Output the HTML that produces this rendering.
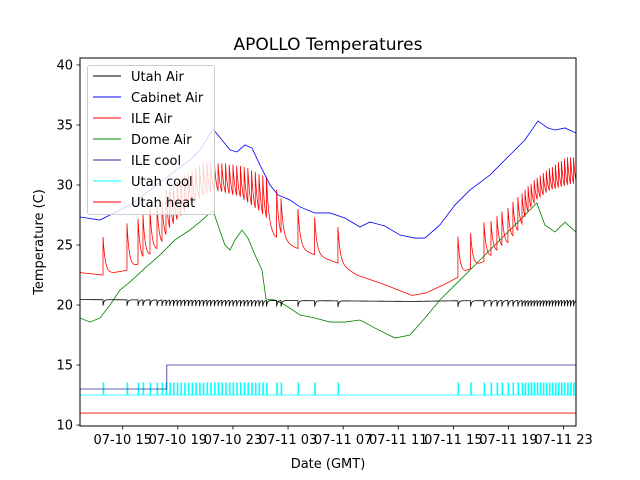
<!DOCTYPE html>
<html><head><meta charset="utf-8"><style>
body{margin:0;background:#fff}
svg{display:block;font-family:"DejaVu Sans","Liberation Sans",sans-serif}
</style></head><body>
<svg id="chart" width="640" height="480" viewBox="0 0 640 480" xmlns="http://www.w3.org/2000/svg">
<rect width="640" height="480" fill="#fff"/>
<text x="328" y="50" font-size="17" text-anchor="middle">APOLLO Temperatures</text>
<text x="328" y="468" font-size="13" text-anchor="middle">Date (GMT)</text>
<text x="0" y="0" font-size="13" text-anchor="middle" transform="translate(43,242) rotate(-90)">Temperature (C)</text>
<defs><clipPath id="pa"><rect x="80" y="58" width="496" height="368"/></clipPath></defs>
<g id="series" clip-path="url(#pa)"></g>
<g id="axes"></g>
<g id="legend"></g>
</svg>
<script>
// time in hours since 07-10 00:00 GMT
const xTickHours = [15,19,23,27,31,35,39,43,47];
const xTickLabels = ["07-10 15","07-10 19","07-10 23","07-11 03","07-11 07","07-11 11","07-11 15","07-11 19","07-11 23"];
const yTicks = [10,15,20,25,30,35,40];

const cabinetT = [11.9,13.35,14.08,15.53,16.98,18.43,19.88,20.61,21.55,22.79,23.29,23.87,24.38,24.96,25.69,26.27,27.14,27.87,28.95,30.04,31.13,32.22,32.94,34.03,35.12,36.21,36.94,38.02,39.11,40.2,41.65,43.1,44.19,45.14,45.86,46.37,47.1,47.9];
const cabinetV = [27.33,27.08,27.5,28.33,29.58,30.83,32.08,32.92,34.67,32.92,32.75,33.33,33.08,31.67,30.0,29.17,28.75,28.17,27.67,27.67,27.25,26.5,26.92,26.58,25.83,25.58,25.58,26.67,28.33,29.58,30.83,32.5,33.75,35.33,34.75,34.58,34.75,34.33];

const domeT = [11.9,12.63,13.35,14.08,14.8,15.53,16.62,17.71,18.79,19.88,20.61,21.33,21.55,21.91,22.42,22.79,23.15,23.66,24.09,24.6,25.11,25.4,26.05,26.78,27.87,28.95,30.04,31.13,32.22,33.31,34.76,35.85,36.94,38.02,39.48,40.93,42.38,43.83,45.06,45.64,46.37,47.1,47.9];
const domeV = [18.92,18.58,18.92,20.0,21.25,21.92,23.08,24.17,25.42,26.25,26.92,27.67,27.9,26.67,25.0,24.58,25.42,26.25,25.58,24.17,22.92,20.5,20.42,20.0,19.17,18.92,18.58,18.58,18.75,18.08,17.25,17.5,18.92,20.42,22.08,23.75,25.42,27.08,28.5,26.67,26.08,26.9,26.08];

const ileBaseT = [11.9,13.5,15.3,16.5,18,19.5,21,22,23.5,25,26,27.5,28.9,30.6,32,34,36,37,38.5,39.3,40.2,41.5,43,44.2,45,46,47.9];
const ileBaseV = [22.7,22.5,22.9,23.6,25.0,27.0,28.6,28.9,28.4,27.0,25.7,24.8,24.2,23.5,22.5,21.7,20.8,21.0,21.8,22.3,23.0,23.8,25.0,26.5,28.0,28.9,29.3];
const spikeT = [13.57,15.31,16.11,16.47,16.98,17.49,17.85,18.14,18.41,18.68,18.95,19.22,19.49,19.76,20.03,20.30,20.57,20.84,21.11,21.38,21.65,21.92,22.19,22.46,22.73,23.00,23.27,23.54,23.81,24.08,24.35,24.62,24.89,25.16,25.43,26.17,26.49,27.72,28.93,30.62,39.33,40.25,41.22,41.73,42.16,42.52,42.96,43.32,43.68,43.98,44.2,44.42,44.64,44.86,45.08,45.30,45.52,45.74,45.96,46.18,46.40,46.62,46.84,47.06,47.28,47.50,47.72];
const spikePeak = [25.67,26.8,27.2,27.6,28.0,28.3,28.6,29.6,29.8,30.0,30.3,30.5,30.8,31.0,31.2,31.4,31.6,31.8,31.9,31.9,31.9,31.8,31.8,31.8,31.7,31.7,31.6,31.6,31.5,31.4,31.2,31.1,30.9,30.8,30.7,29.6,28.9,28.0,27.3,26.5,25.7,26.0,26.9,27.0,27.4,27.8,28.1,28.6,29.0,29.3,29.6,29.9,30.1,30.4,30.6,30.8,31.0,31.2,31.4,31.5,31.7,31.9,32.0,32.2,32.3,32.3,32.3];

const utahBaseT = [11.9,30,36,39,47.9];
const utahBaseV = [20.45,20.35,20.3,20.35,20.4];
const utahDipDepth = [0.5];
const ileCoolT = [11.9,18.2,47.9];
const ileCoolV = [13,15,15];
const utahCoolLow = [12.5], utahCoolHigh = [13.5];
const utahHeatV = [11];

const T0=11.9, T1=47.9, X0=80, X1=576, Y0=426, Y1=58, V0=9.92, V1=40.58;
const xs = t => X0 + (t-T0)/(T1-T0)*(X1-X0);
const ys = v => Y0 - (v-V0)/(V1-V0)*(Y0-Y1);
function interp(T,V,t){ if(t<=T[0]) return V[0]; for(let i=1;i<T.length;i++){ if(t<=T[i]){const f=(t-T[i-1])/(T[i]-T[i-1]); return V[i-1]+f*(V[i]-V[i-1]);} } return V[V.length-1]; }
const NS="http://www.w3.org/2000/svg";
const series=document.getElementById('series'), axes=document.getElementById('axes'), legend=document.getElementById('legend');
function mk(tag,attrs,parent){const e=document.createElementNS(NS,tag);for(const k in attrs)e.setAttribute(k,attrs[k]);parent.appendChild(e);return e;}
function pathFrom(pts){return pts.map((p,i)=>(i?'L':'M')+xs(p[0]).toFixed(2)+','+ys(p[1]).toFixed(2)).join('');}

function spiky(baseT,baseV,peaks,tau,sign,depth){
  const pts=[]; let si=-1; const step=0.01;
  const times=[];
  for(let t=T0;t<=T1+1e-9;t+=step) times.push(t);
  spikeT.forEach(s=>{times.push(s-0.0005);times.push(s);});
  times.sort((a,b)=>a-b);
  for(const t of times){
    while(si+1<spikeT.length && spikeT[si+1]<=t) si++;
    let v=interp(baseT,baseV,t);
    if(si>=0){const s=spikeT[si];
      const amp = peaks ? (peaks[si]-interp(baseT,baseV,s)) : sign*depth;
      v+=amp*Math.exp(-(t-s)/tau);}
    pts.push([t,v]);
  }
  return pts;
}

const uh=mk('path',{d:pathFrom([[T0,utahHeatV[0]],[T1,utahHeatV[0]]]),stroke:'#ff0000',fill:'none','stroke-width':0.8},series);


(function(){const pts=[[T0,utahCoolLow[0]]];spikeT.forEach(s=>{pts.push([s,utahCoolLow[0]],[s,utahCoolHigh[0]],[s+0.06,utahCoolHigh[0]],[s+0.06,utahCoolLow[0]]);});pts.push([T1,utahCoolLow[0]]);
const p=mk('path',{d:pathFrom(pts),stroke:'#00ffff',fill:'none','stroke-width':0.8},series);

})();
(function(){const pts=[];for(let i=0;i<ileCoolT.length;i++){if(i>0)pts.push([ileCoolT[i],ileCoolV[i-1]]);pts.push([ileCoolT[i],ileCoolV[i]]);}
const p=mk('path',{d:pathFrom(pts),stroke:'#2e2e9a',fill:'none','stroke-width':0.8},series);

})();
(function(){const p=mk('path',{d:pathFrom(domeT.map((t,i)=>[t,domeV[i]])),stroke:'#008000',fill:'none','stroke-width':0.8},series);

})();
(function(){const p=mk('path',{d:pathFrom(spiky(ileBaseT,ileBaseV,spikePeak,0.17)),stroke:'#ff0000',fill:'none','stroke-width':0.8},series);

})();
(function(){const p=mk('path',{d:pathFrom(cabinetT.map((t,i)=>[t,cabinetV[i]])),stroke:'#0000ff',fill:'none','stroke-width':0.8},series);

})();
(function(){const p=mk('path',{d:pathFrom(spiky(utahBaseT,utahBaseV,null,0.07,-1,utahDipDepth[0])),stroke:'#000000',fill:'none','stroke-width':0.8},series);

})();

const fr=mk('rect',{x:X0,y:Y1,width:X1-X0,height:Y0-Y1,fill:'none',stroke:'#000','stroke-width':1},axes);


yTicks.forEach(v=>{const y=ys(v);
  const l=mk('line',{x1:X0-3.5,x2:X0,y1:y,y2:y,stroke:'#000','stroke-width':0.8},axes);
  
  
  const t=mk('text',{x:X0-7,y:y+4.5,'font-size':13,'text-anchor':'end'},axes);t.textContent=v;
  
  
});
xTickHours.forEach((h,i)=>{const x=xs(h);
  const l=mk('line',{x1:x,x2:x,y1:Y0,y2:Y0+3.5,stroke:'#000','stroke-width':0.8},axes);
  
  
  const t=mk('text',{x:x,y:Y0+18,'font-size':13,'text-anchor':'middle'},axes);t.textContent=xTickLabels[i];
  
  
});

const legNames=["Utah Air","Cabinet Air","ILE Air","Dome Air","ILE cool","Utah cool","Utah heat"];
const legColors=["#000000","#0000ff","#ff0000","#008000","#2e2e9a","#00ffff","#ff0000"];
const lb=mk('rect',{x:87.5,y:65.5,width:127,height:149,rx:2.5,fill:'#fff','fill-opacity':0.8,stroke:'#cccccc','stroke-width':1},legend);


legNames.forEach((n,i)=>{const y=76+i*21;
  const g=mk('g',{},legend);
  
  
  mk('line',{x1:93,x2:121,y1:y,y2:y,stroke:legColors[i],'stroke-width':1},g);
  const t=mk('text',{x:131,y:y+5,'font-size':13},g);t.textContent=n;
});
</script>
</body></html>
